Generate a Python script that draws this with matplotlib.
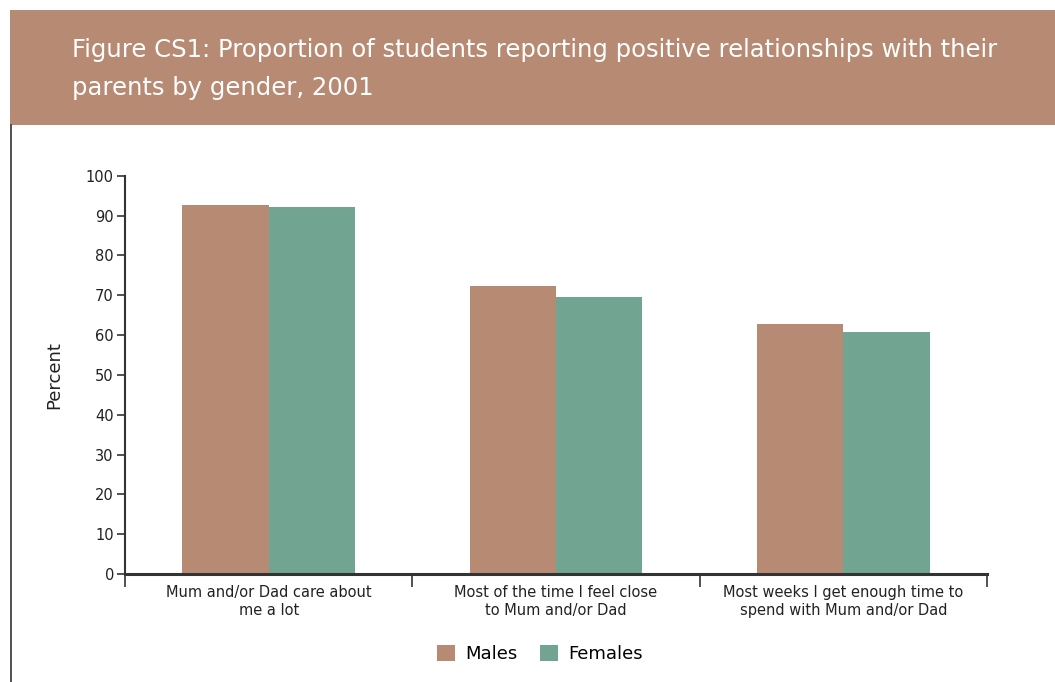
import numpy as np
import matplotlib.pyplot as plt
from matplotlib.patches import Rectangle
from matplotlib.lines import Line2D

plt.rcParams['font.family'] = ['DejaVu Sans']

# Survey results, percent of students
categories = ['Mum and/or Dad care about\nme a lot',
              'Most of the time I feel close\nto Mum and/or Dad',
              'Most weeks I get enough time to\nspend with Mum and/or Dad']
males = [92.7, 72.4, 62.8]
females = [92.2, 69.6, 60.8]
yticks = [0, 10, 20, 30, 40, 50, 60, 70, 80, 90, 100]

brown = '#b78a73'
green = '#71a491'
dark = '#333333'

W, H = 1055, 682
fig = plt.figure(figsize=(W / 100, H / 100), dpi=100)

# header band and left rule
fig.patches.append(Rectangle((10 / W, 1 - 125 / H), 1 - 10 / W, 115 / H,
                             transform=fig.transFigure, facecolor=brown,
                             edgecolor='none', zorder=0))
fig.lines.append(Line2D([10.5 / W, 10.5 / W], [0, 1 - 125 / H],
                        transform=fig.transFigure, color=dark, lw=1.2))
fig.text(72 / W, 1 - 38 / H,
         'Figure CS1: Proportion of students reporting positive relationships with their\n'
         'parents by gender, 2001',
         color='white', fontsize=17.5, va='top', ha='left', linespacing=1.75)

ax = fig.add_axes([125 / W, 1 - 574 / H, (987 - 125) / W, (574 - 175.7) / H])

x = np.arange(len(categories))
w = 0.3
ax.bar(x - w / 2, males, w, color=brown, label='Males')
ax.bar(x + w / 2, females, w, color=green, label='Females')

ax.set_xlim(-0.5, len(categories) - 0.5)
ax.set_ylim(0, 100)
ax.set_yticks(yticks)
ax.tick_params(axis='y', length=6, width=1.2, color=dark, labelsize=10.5,
               pad=2, labelcolor='#222222')

# group boundaries get tick marks, labels sit at the centres
ax.set_xticks(np.arange(-0.5, len(categories)), labels=[''] * (len(categories) + 1))
ax.tick_params(axis='x', which='major', length=9, width=1.2, color=dark)
ax.set_xticks(x, labels=categories, minor=True)
ax.tick_params(axis='x', which='minor', length=0, labelsize=10.5, pad=8,
               labelcolor='#222222')

for s in ['top', 'right']:
    ax.spines[s].set_visible(False)
ax.spines['left'].set_color(dark)
ax.spines['left'].set_linewidth(1.5)
ax.spines['bottom'].set_color(dark)
ax.spines['bottom'].set_linewidth(2.2)

ax.set_ylabel('Percent', fontsize=13, labelpad=16, color='#222222')

fig.legend(loc='center', bbox_to_anchor=(540 / W, 1 - 654 / H), ncol=2,
           frameon=False, fontsize=13, handlelength=1.0, handleheight=1.0,
           handletextpad=0.6, columnspacing=1.2)

fig.savefig('out.png', dpi=100)
